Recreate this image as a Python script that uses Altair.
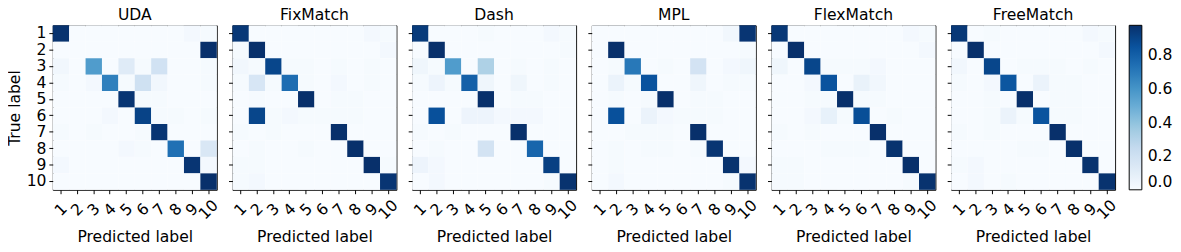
import altair as alt
import pandas as pd

methods = ["UDA", "FixMatch", "Dash", "MPL", "FlexMatch", "FreeMatch"]
class_labels = [str(i) for i in range(1, 11)]

uda = [
    [0.97, 0, 0, 0, 0, 0, 0, 0, 0.02, 0.01],
    [0, 0, 0, 0, 0, 0, 0, 0, 0, 0.98],
    [0.03, 0, 0.57, 0, 0.12, 0.01, 0.19, 0, 0, 0.01],
    [0.01, 0, 0.02, 0.68, 0.01, 0.20, 0.03, 0, 0, 0.01],
    [0, 0, 0, 0, 0.96, 0.01, 0.01, 0, 0, 0],
    [0, 0, 0, 0.02, 0, 0.91, 0.01, 0.01, 0, 0.01],
    [0.01, 0, 0.01, 0, 0, 0.01, 0.96, 0, 0, 0],
    [0, 0, 0, 0, 0.02, 0.01, 0, 0.74, 0, 0.15],
    [0.02, 0, 0, 0, 0, 0, 0, 0, 0.96, 0.02],
    [0, 0, 0, 0, 0, 0, 0, 0, 0, 0.98],
]
fixmatch = [
    [0.95, 0, 0, 0, 0, 0, 0, 0, 0.02, 0.01],
    [0.01, 0.98, 0, 0, 0, 0, 0, 0, 0, 0.02],
    [0.03, 0.01, 0.90, 0.01, 0.01, 0, 0.01, 0, 0.01, 0],
    [0.01, 0.16, 0.01, 0.75, 0.01, 0, 0.02, 0, 0.01, 0],
    [0, 0.01, 0, 0, 0.98, 0, 0.01, 0.01, 0, 0],
    [0, 0.90, 0.01, 0.02, 0.01, 0.01, 0.01, 0.01, 0, 0],
    [0.01, 0, 0.01, 0, 0, 0, 0.98, 0, 0, 0],
    [0, 0.01, 0, 0, 0.01, 0, 0, 0.98, 0, 0],
    [0.01, 0.01, 0, 0, 0, 0, 0, 0, 0.98, 0.01],
    [0.01, 0.02, 0, 0, 0, 0, 0, 0, 0, 0.96],
]
dash = [
    [0.94, 0, 0, 0, 0.01, 0, 0, 0, 0.02, 0.01],
    [0, 0.98, 0, 0, 0, 0, 0, 0, 0, 0.01],
    [0.04, 0.01, 0.57, 0, 0.32, 0, 0.01, 0, 0.01, 0],
    [0.01, 0.05, 0.01, 0.80, 0.04, 0, 0.04, 0, 0.01, 0],
    [0, 0, 0, 0, 0.98, 0, 0.01, 0.01, 0, 0],
    [0, 0.86, 0, 0.05, 0.05, 0.02, 0.02, 0.02, 0, 0],
    [0.01, 0, 0.01, 0, 0, 0, 0.98, 0, 0, 0],
    [0, 0.01, 0, 0, 0.18, 0, 0, 0.78, 0, 0],
    [0.05, 0.02, 0, 0, 0, 0, 0, 0, 0.92, 0],
    [0, 0.02, 0, 0, 0, 0, 0, 0, 0.01, 0.97],
]
mpl = [
    [0, 0, 0, 0, 0, 0, 0, 0, 0.03, 0.96],
    [0, 0.98, 0, 0, 0, 0, 0, 0, 0, 0.01],
    [0, 0.01, 0.71, 0, 0.01, 0, 0.18, 0, 0.02, 0.04],
    [0, 0.06, 0.01, 0.85, 0, 0, 0.04, 0, 0.01, 0.01],
    [0, 0.01, 0, 0.01, 0.98, 0, 0.01, 0.01, 0, 0],
    [0, 0.86, 0, 0.06, 0.02, 0.01, 0.01, 0.01, 0, 0],
    [0, 0, 0.01, 0.01, 0.01, 0, 0.98, 0, 0, 0],
    [0, 0.01, 0, 0.01, 0.01, 0, 0.01, 0.96, 0, 0],
    [0, 0.01, 0, 0, 0, 0, 0, 0, 0.97, 0.02],
    [0, 0.02, 0, 0, 0, 0, 0, 0, 0.01, 0.97],
]
flexmatch = [
    [0.95, 0, 0, 0, 0, 0, 0, 0, 0.02, 0.01],
    [0, 0.98, 0, 0, 0, 0, 0, 0, 0, 0.02],
    [0.04, 0, 0.90, 0.01, 0.01, 0.01, 0.02, 0, 0, 0],
    [0, 0, 0.02, 0.85, 0, 0.07, 0.03, 0, 0, 0],
    [0, 0, 0.01, 0.01, 0.98, 0.01, 0.01, 0, 0, 0],
    [0, 0, 0.02, 0.08, 0.01, 0.87, 0, 0.01, 0, 0],
    [0.01, 0, 0.01, 0, 0, 0, 0.98, 0, 0, 0],
    [0, 0, 0, 0.01, 0.01, 0.01, 0, 0.97, 0, 0],
    [0.01, 0.01, 0, 0, 0, 0, 0, 0, 0.98, 0],
    [0.01, 0.01, 0, 0, 0, 0, 0, 0, 0.01, 0.97],
]
freematch = [
    [0.95, 0, 0.01, 0, 0, 0, 0, 0, 0.02, 0.01],
    [0, 0.98, 0, 0, 0, 0, 0, 0, 0, 0.02],
    [0.03, 0, 0.90, 0, 0.01, 0.01, 0.01, 0, 0.01, 0],
    [0.01, 0, 0.02, 0.84, 0, 0.06, 0.01, 0.01, 0, 0],
    [0, 0, 0.01, 0, 0.98, 0, 0.01, 0.01, 0, 0],
    [0, 0, 0.01, 0.06, 0.01, 0.85, 0.01, 0.01, 0, 0],
    [0.01, 0, 0.01, 0, 0, 0, 0.98, 0, 0, 0],
    [0, 0, 0, 0, 0.01, 0.01, 0, 0.98, 0, 0],
    [0.01, 0.02, 0, 0, 0, 0, 0, 0, 0.97, 0],
    [0, 0.02, 0, 0.01, 0, 0, 0, 0, 0, 0.97],
]
matrices = [uda, fixmatch, dash, mpl, flexmatch, freematch]

legend_ticks = [0.0, 0.2, 0.4, 0.6, 0.8]
vmax = 0.98
blues = ["#f7fbff", "#deebf7", "#c6dbef", "#9ecae1", "#6baed6",
         "#4292c6", "#2171b5", "#08519c", "#08306b"]
color_domain = [vmax * i / 8 for i in range(9)]

FONT = "DejaVu Sans"
FS = 16
PW = 168.5
PH = 169


def panel(idx):
    name = methods[idx]
    m = matrices[idx]
    rows = []
    for i, true_lab in enumerate(class_labels):
        for j, pred_lab in enumerate(class_labels):
            rows.append({"true": true_lab, "pred": pred_lab, "value": m[i][j]})
    df = pd.DataFrame(rows)
    first = idx == 0
    yaxis = alt.Axis(
        title="True label" if first else None,
        labels=first,
        tickSize=4,
        labelPadding=3,
        titlePadding=4,
        domain=False,
    )
    return (
        alt.Chart(df, title=alt.Title(name, fontSize=FS, fontWeight="normal", font=FONT,
                                      offset=2, color="black"))
        .mark_rect()
        .encode(
            x=alt.X(
                "pred:O",
                sort=class_labels,
                scale=alt.Scale(paddingInner=0, paddingOuter=0),
                axis=alt.Axis(
                    title="Predicted label",
                    labelAngle=-45,
                    labelAlign="center",
                    labelBaseline="middle",
                    tickSize=4,
                    labelPadding=16,
                    titlePadding=7,
                    domain=False,
                ),
            ),
            y=alt.Y(
                "true:O",
                sort=class_labels,
                scale=alt.Scale(paddingInner=0, paddingOuter=0),
                axis=yaxis,
            ),
            color=alt.Color(
                "value:Q",
                scale=alt.Scale(domain=color_domain, range=blues, interpolate="rgb"),
                legend=alt.Legend(
                    title=None,
                    type="gradient",
                    direction="vertical",
                    gradientLength=PH,
                    gradientThickness=13,
                    values=legend_ticks,
                    format=".1f",
                    labelFontSize=FS,
                    labelFont=FONT,
                    labelColor="black",
                    labelOffset=6,
                    labelBaseline="middle",
                    gradientStrokeColor="black",
                    gradientStrokeWidth=1,
                    offset=10,
                    padding=0,
                ),
            ),
        )
        .properties(width=PW, height=PH)
    )


chart = (
    alt.hconcat(*[panel(i) for i in range(len(methods))], spacing=6.6)
    .configure_view(stroke="black", strokeWidth=1)
    .configure_axis(
        labelFont=FONT,
        titleFont=FONT,
        labelFontSize=FS,
        titleFontSize=FS,
        titleFontWeight="normal",
        labelColor="black",
        titleColor="black",
        tickColor="black",
    )
    .properties(padding={"left": -2, "top": -4.5, "right": 0, "bottom": 0}, background="white")
)

chart.save("out.html", embed_options={"renderer": "svg", "actions": False})
